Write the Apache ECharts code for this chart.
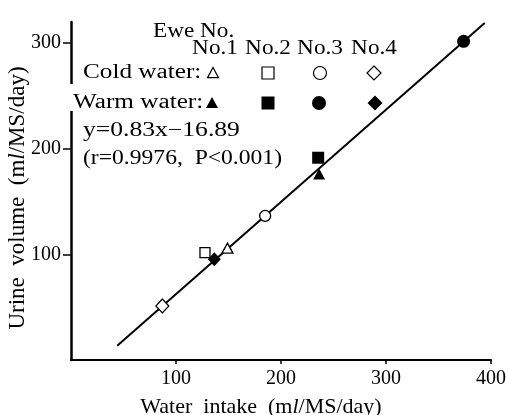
<!DOCTYPE html>
<html>
<head>
<meta charset="utf-8">
<script src="https://cdn.jsdelivr.net/npm/echarts@6/dist/echarts.min.js"></script>
<style>
  html, body { margin: 0; padding: 0; background: #fff; }
  #main { width: 508px; height: 415px; }
</style>
</head>
<body>
<div id="main"></div>
<script>
// values
var ewes = ['No.1', 'No.2', 'No.3', 'No.4'];
var symbols = ['triangle', 'rect', 'circle', 'diamond'];
var coldX = [149, 127.6, 184.9, 87];
var coldY = [105.9, 101.7, 136.5, 51.2];
var warmX = [236.3, 235.4, 373.9, 136.5];
var warmY = [176, 191.5, 301.7, 95.4];
var fitX = [44, 394];
var fitY = [13.6, 319];
var xTicks = [100, 200, 300, 400];
var yTicks = [100, 200, 300];

var FONT = 'Liberation Serif';
var coldSize = [[11, 10], [10, 10], [11, 11], [13, 14]];
var warmSize = [[12, 11], [12, 12], [13, 13], [13, 14]];

var series = [];
ewes.forEach(function (name, i) {
    series.push({
        name: 'Cold ' + name,
        type: 'scatter',
        symbol: symbols[i],
        symbolSize: coldSize[i],
        itemStyle: { color: '#fff', borderColor: '#000', borderWidth: 1.3, opacity: 1 },
        z: 3,
        data: [[coldX[i], coldY[i]]]
    });
    series.push({
        name: 'Warm ' + name,
        type: 'scatter',
        symbol: symbols[i],
        symbolSize: warmSize[i],
        itemStyle: { color: '#000', opacity: 1 },
        z: 4,
        data: [[warmX[i], warmY[i]]]
    });
});
series.unshift({
    name: 'fit',
    type: 'line',
    showSymbol: false,
    symbol: 'none',
    lineStyle: { color: '#000', width: 2 },
    z: 2,
    data: fitX.map(function (x, i) { return [x, fitY[i]]; })
});

// legend glyphs drawn by hand, the figure's key is a small table
function glyph(kind, cx, cy, s, filled) {
    var style = filled ? { fill: '#000' } : { fill: '#fff', stroke: '#000', lineWidth: 1.2 };
    var h = s / 2;
    var el;
    if (kind === 'triangle') {
        el = { type: 'polygon', shape: { points: [[0, -h], [h, h * 0.85], [-h, h * 0.85]] } };
    } else if (kind === 'rect') {
        el = { type: 'rect', shape: { x: -h, y: -h, width: s, height: s } };
    } else if (kind === 'circle') {
        el = { type: 'circle', shape: { cx: 0, cy: 0, r: h } };
    } else {
        el = { type: 'polygon', shape: { points: [[0, -h], [h, 0], [0, h], [-h, 0]] } };
    }
    el.x = cx; el.y = cy; el.style = style; el.z = 100;
    return el;
}
// the scan is stretched sideways, so the key text gets a small scaleX
function label(text, x, y, sx, align) {
    return {
        type: 'text', x: x, y: y, z: 100, scaleX: sx,
        style: { text: text, fill: '#000', font: '20px "' + FONT + '"', align: align || 'left', verticalAlign: 'middle' }
    };
}

var coldPos = [213, 268, 320, 374];
var warmPos = [212, 268, 319, 375];
var headPos = [215, 268, 320, 374];
var graphics = [
    { type: 'rect', shape: { x: 64, y: 84, width: 12, height: 27 }, style: { fill: '#fff' }, z: 50 },
    label('Ewe No.', 153, 32, 1.16),
    label('Cold water:', 83, 73, 1.26),
    label('Warm water:', 73, 103, 1.26),
    label('y=0.83x\u221216.89', 83, 131, 1.28),
    label('(r=0.9976,  P<0.001)', 83, 159, 1.18)
];
ewes.forEach(function (name, i) {
    graphics.push(label(name, headPos[i], 49, 1.16, 'center'));
    graphics.push(glyph(symbols[i], coldPos[i], 73, [11, 12, 13, 14][i], false));
    graphics.push(glyph(symbols[i], warmPos[i], 103, [12, 13, 14, 15][i], true));
});

var myChart = echarts.init(document.getElementById('main'));
myChart.setOption({
    animation: false,
    backgroundColor: '#fff',
    textStyle: { fontFamily: FONT, color: '#000' },
    grid: { left: 71, right: 17, top: 22, bottom: 55, outerBoundsMode: 'none' },
    xAxis: {
        type: 'value',
        min: 0,
        max: 400,
        interval: 100,
        name: 'Water  intake  (m{i|l}/MS/day)',
        nameLocation: 'middle',
        nameGap: 36,
        nameTextStyle: {
            fontFamily: FONT, fontSize: 22, color: '#000', padding: [0, 40, 0, 0],
            rich: { i: { fontFamily: FONT, fontSize: 22, fontStyle: 'italic', color: '#000' } }
        },
        splitLine: { show: false },
        axisLine: { lineStyle: { color: '#000', width: 2 } },
        axisTick: { customValues: xTicks, length: 4, lineStyle: { color: '#000', width: 1.5 } },
        axisLabel: { customValues: xTicks, margin: 9, fontFamily: FONT, fontSize: 20, color: '#000' }
    },
    yAxis: {
        type: 'value',
        min: 0,
        max: 320,
        interval: 100,
        name: 'Urine  volume  (m{i|l}/MS/day)',
        nameLocation: 'middle',
        nameGap: 42,
        nameMoveOverlap: false,
        nameRotate: 90,
        nameTextStyle: {
            fontFamily: FONT, fontSize: 23, color: '#000', padding: [0, 14, 0, 0],
            rich: { i: { fontFamily: FONT, fontSize: 23, fontStyle: 'italic', color: '#000' } }
        },
        splitLine: { show: false },
        axisLine: { lineStyle: { color: '#000', width: 2.5 } },
        axisTick: { customValues: yTicks, length: 8, lineStyle: { color: '#000', width: 1.5 } },
        axisLabel: { customValues: yTicks, margin: 10, fontFamily: FONT, fontSize: 20, color: '#000' }
    },
    graphic: graphics,
    series: series
});
</script>
</body>
</html>
